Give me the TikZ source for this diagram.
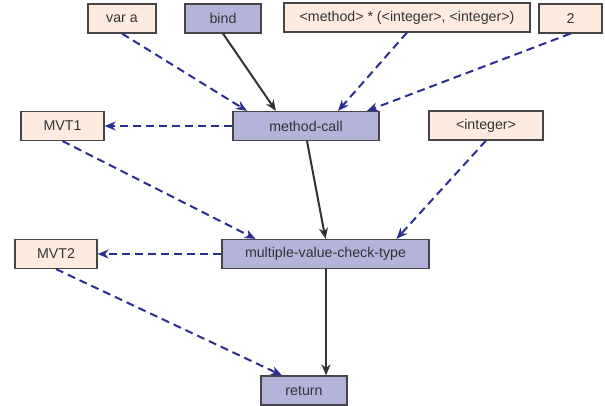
\documentclass[tikz,border=0pt]{standalone}
\usepackage{fontspec}
\setmainfont{Liberation Sans}
\usetikzlibrary{arrows.meta}
\definecolor{peach}{HTML}{FDEBE0}
\definecolor{lav}{HTML}{B4B4DA}
\definecolor{bord}{HTML}{454545}
\definecolor{dblue}{HTML}{2B2E91}
\definecolor{dgray}{HTML}{333333}
\tikzset{
  box/.style={draw=bord, line width=1.2pt, minimum height=29pt, inner sep=0pt, font=\fontsize{14.2}{16}\selectfont, text=dgray},
  inbox/.style={box, fill=peach},
  opbox/.style={box, fill=lav},
  dflow/.style={draw=dblue, line width=2pt, dash pattern=on 8pt off 5pt, -{Stealth[length=11pt,width=9pt,inset=3.5pt]}},
  sflow/.style={draw=dgray, line width=2pt, -{Stealth[length=11pt,width=9pt,inset=3.5pt]}}
}
\begin{document}
\begin{tikzpicture}[x=1pt,y=-1pt]
\useasboundingbox (0,0) rectangle (605,406);
\node[inbox, minimum width=68pt] (va) at (122,18.5) {var a};
\node[opbox, minimum width=76pt] (bind) at (223,18.5) {bind};
\node[inbox, minimum width=246pt] (meth) at (407,17.5) {<method> * (<integer>, <integer>)};
\node[inbox, minimum width=63pt] (two) at (570.5,18.5) {2};
\node[inbox, minimum width=83pt] (mvt1) at (62.5,126) {MVT1};
\node[opbox, minimum width=146pt] (mc) at (306,126) {method-call};
\node[inbox, minimum width=114pt] (int) at (486,125.5) {<integer>};
\node[opbox, minimum width=207pt] (mvct) at (325.5,254) {multiple-value-check-type};
\node[inbox, minimum width=82pt] (mvt2) at (56,254) {MVT2};
\node[opbox, minimum width=86pt] (ret) at (304,390.5) {return};

\draw[dflow] (va.south) -- ([xshift=-59pt]mc.north);
\draw[sflow] (bind.south) -- ([xshift=-30pt]mc.north);
\draw[dflow] (meth.south) -- ([xshift=32pt]mc.north);
\draw[dflow] (two.south) -- ([xshift=61pt]mc.north);
\draw[dflow] (mc.west) -- (mvt1.east);
\draw[dflow] (mvt1.south) -- ([xshift=-70pt]mvct.north);
\draw[sflow] ([xshift=1pt]mc.south) -- (mvct.north);
\draw[dflow] (int.south) -- ([xshift=71pt]mvct.north);
\draw[dflow] (mvct.west) -- (mvt2.east);
\draw[dflow] (mvt2.south) -- ([xshift=-22pt]ret.north);
\draw[sflow] ([xshift=0.5pt]mvct.south) -- ([xshift=22pt]ret.north);
\end{tikzpicture}
\end{document}
